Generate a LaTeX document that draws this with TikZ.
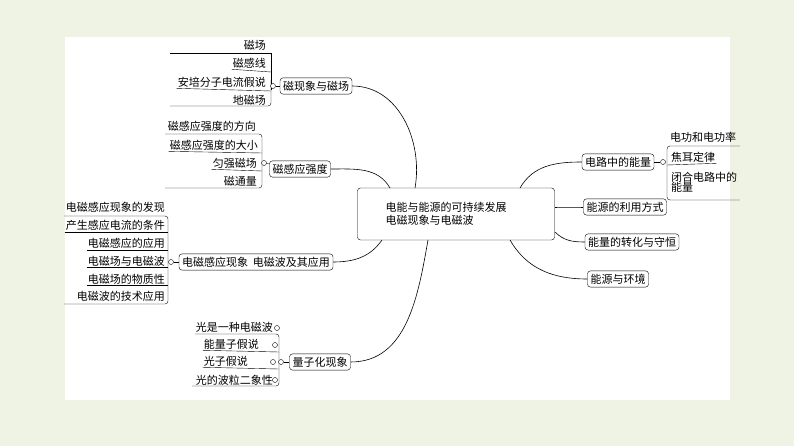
\documentclass[tikz,border=0pt]{standalone}
\usepackage{fontspec}
\setmainfont{Noto Sans CJK SC}
\usetikzlibrary{positioning}
\definecolor{bgcol}{HTML}{EEF3E4}
\tikzset{
  topic/.style={rectangle, draw, rounded corners=3pt, inner sep=3pt, font=\fontsize{11}{13}\selectfont},
  item/.style={inner sep=1pt, font=\fontsize{11}{13}\selectfont},
  bracket/.style={rounded corners=3pt},
  knob/.style={circle, draw, fill=white, inner sep=0pt, minimum size=5pt},
  link/.style={semithick}
}
\begin{document}
\begin{tikzpicture}[x=1pt, y=-1pt]
  \useasboundingbox (0,0) rectangle (794,446);
  \fill[bgcol] (0,0) rectangle (794,446);
  \fill[white] (65,37) rectangle (730,400);

  % Central topic
  \node[topic, minimum width=197pt, minimum height=52pt, align=left, text width=185pt] (root) at (456,214) {\hspace{22pt}电能与能源的可持续发展\\\hspace{22pt}电磁现象与电磁波};

  % Left topics
  \node[topic] (magnet) at (316,86) {磁现象与磁场};
  \node[topic] (induct) at (300,169) {磁感应强度};
  \node[topic] (wave) at (256,262) {电磁感应现象\ \ 电磁波及其应用};
  \node[topic] (quant) at (320,362) {量子化现象};

  % Right topics
  \node[topic] (circuit) at (618,162) {电路中的能量};
  \node[topic] (usage) at (625,207) {能源的利用方式};
  \node[topic] (conserve) at (632,242) {能量的转化与守恒};
  \node[topic] (environ) at (618,279) {能源与环境};

  % Connections
  \draw[link] (magnet.east) to[out=0, in=80] (415,188);
  \draw[link] (induct.east) to[out=0, in=120] (390,188);
  \draw[link] (wave.east) to[out=0, in=-125] (382,240);
  \draw[link] (quant.east) to[out=0, in=-100] (428,240);
  \draw[link] (circuit.west) to[out=180, in=60] (520,188);
  \draw[link] (usage.west) to[out=180, in=0] (555,207);
  \draw[link] (conserve.west) to[out=180, in=-45] (555,232);
  \draw[link] (environ.west) to[out=180, in=-60] (510,240);

  % Magnet details
  \node[item, anchor=east] (m1) at (267,45) {磁场};
  \node[item, anchor=east] (m2) at (267,63) {磁感线};
  \node[item, anchor=east] (m3) at (267,82) {安培分子电流假说};
  \node[item, anchor=east] (m4) at (267,100) {地磁场};
  \draw (170,53) -| (271,90);
  \draw[bracket] (271,80) |- (170,106);
  \draw (m2.south west) -- (271,72);
  \draw (m3.south west) -- (271,91);
  \node[knob] (mk) at (273,86) {};
  \draw (mk) -- (magnet);

  % Induction details
  \node[item, anchor=east] (b1) at (257,126) {磁感应强度的方向};
  \node[item, anchor=east] (b2) at (259,145) {磁感应强度的大小};
  \node[item, anchor=east] (b3) at (258,163) {匀强磁场};
  \node[item, anchor=east] (b4) at (258,181) {磁通量};
  \draw[bracket] (165,134) -| (262,188) -- (165,188);
  \draw (b2.south west) -- (262,153);
  \draw (b3.south west) -- (262,171);
  \node[knob] (bk) at (264,163) {};
  \draw (bk) -- (induct);

  % Wave details
  \foreach \t [count=\i] in {电磁感应现象的发现, 产生感应电流的条件, 电磁感应的应用, 电磁场与电磁波, 电磁场的物质性, 电磁波的技术应用}
    \node[item, anchor=east] (w\i) at (166,190+17.8*\i) {\t};
  \draw[bracket] (64,216) -| (168,304) -- (64,304);
  \foreach \i in {2,...,5}
    \draw (w\i.south west) -- (w\i.south west -| 168,0);
  \node[knob] (wk) at (171,262) {};
  \draw (wk) -- (wave);

  % Quantum details
  \node[item, anchor=east] (q1) at (274,327) {光是一种电磁波};
  \node[item, anchor=east] (q2) at (260,344) {能量子假说};
  \node[item, anchor=east] (q3) at (249,361) {光子假说};
  \node[item, anchor=east] (q4) at (274,380) {光的波粒二象性};
  \draw[bracket] (195,334) -| (279,386) -- (192,386);
  \draw (q2.south west) -- (279,352);
  \draw (q3.south west) -- (279,369);
  \node[knob] (qa) at (277,328) {};
  \node[knob] (qb) at (275,345) {};
  \node[knob] (qc) at (273,362) {};
  \node[knob] (qd) at (275,380) {};
  \node[knob] (qk) at (281,362) {};
  \draw (qk) -- (quant);

  % Circuit details
  \node[item, anchor=west] (c1) at (669,137) {电功和电功率};
  \node[item, anchor=west] (c2) at (670,157) {焦耳定律};
  \node[item, anchor=west, align=left] (c3) at (670,182) {闭合电路中的\\[-3pt]能量};
  \draw[bracket] (740,146) -| (667,200) -- (740,200);
  \draw (667,165) -- (c2.south east);
  \node[knob] (ck) at (663,162) {};
  \draw (ck) -- (circuit);
\end{tikzpicture}
\end{document}
